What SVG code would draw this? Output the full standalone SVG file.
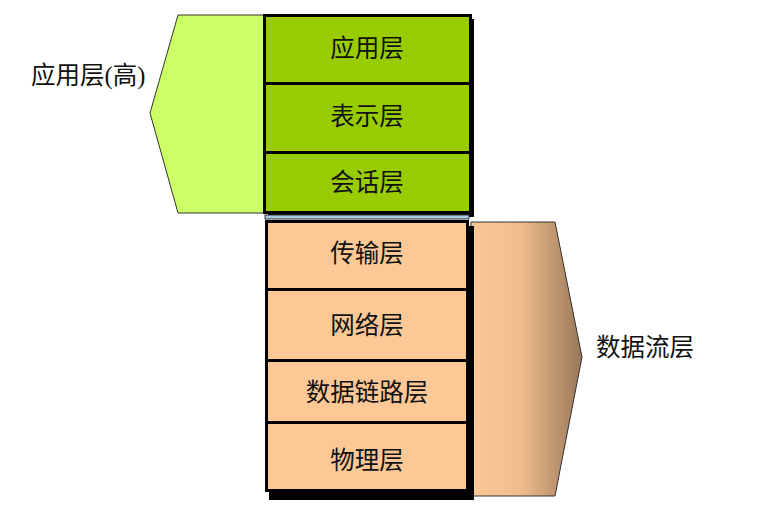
<svg xmlns="http://www.w3.org/2000/svg" width="765" height="509" viewBox="0 0 765 509">
<defs>
<linearGradient id="brown" x1="0" y1="0" x2="1" y2="0">
<stop offset="0" stop-color="#fcc896"/>
<stop offset="0.45" stop-color="#f0bc8c"/>
<stop offset="1" stop-color="#98785a"/>
</linearGradient>
<style>
.t{font-family:"Liberation Serif","Noto Sans CJK SC",serif;font-size:24.5px;fill:#111;text-anchor:middle;dominant-baseline:central}
.lbl{font-family:"Liberation Serif","Noto Sans CJK SC",serif;font-size:24.5px;fill:#111;dominant-baseline:central}
.g{fill:#99cc00;stroke:#000;stroke-width:3}
.o{fill:#fcc896;stroke:#000;stroke-width:3}
.sh{fill:#000}
</style>
</defs>
<rect width="765" height="509" fill="#fff"/>
<g id="app-high">
<polygon points="178,15 264,15 264,213 178,213 150,113" fill="#ccff66" stroke="#333" stroke-width="1"/>
<text class="lbl" x="31" y="75">应用层(高)</text>
</g>
<g id="data-flow">
<polygon points="471,222 555,222 582,357 555,496 471,496" fill="url(#brown)" stroke="#333" stroke-width="1"/>
<text class="lbl" x="596" y="347">数据流层</text>
</g>
<rect class="sh" x="268" y="19" width="206" height="198"/>
<rect class="sh" x="269" y="226" width="205" height="274"/>
<rect x="265" y="215" width="204" height="4" fill="#a8cce0" stroke="#333" stroke-width="1"/>
<g id="application">
<rect class="g" x="264.5" y="15.5" width="206" height="68"/>
<text class="t" x="367" y="48">应用层</text>
</g>
<g id="presentation">
<rect class="g" x="264.5" y="83.5" width="206" height="69"/>
<text class="t" x="367" y="116">表示层</text>
</g>
<g id="session">
<rect class="g" x="264.5" y="152.5" width="206" height="60"/>
<text class="t" x="367" y="182">会话层</text>
</g>
<g id="transport">
<rect class="o" x="266.5" y="221.5" width="201" height="68"/>
<text class="t" x="367" y="253">传输层</text>
</g>
<g id="network">
<rect class="o" x="266.5" y="289.5" width="201" height="71"/>
<text class="t" x="367" y="325">网络层</text>
</g>
<g id="datalink">
<rect class="o" x="266.5" y="360.5" width="201" height="62"/>
<text class="t" x="367" y="392">数据链路层</text>
</g>
<g id="physical">
<rect class="o" x="266.5" y="422.5" width="201" height="68"/>
<text class="t" x="367" y="460">物理层</text>
</g>
<g id="connectors"></g>
</svg>
